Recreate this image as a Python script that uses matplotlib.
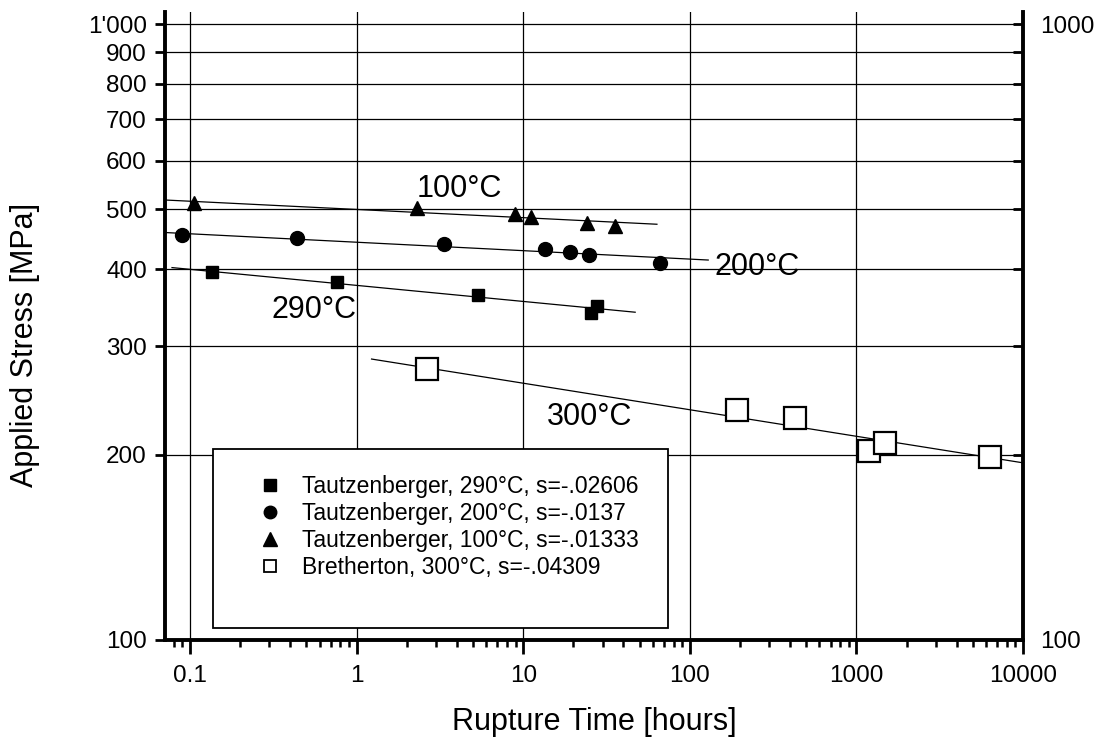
import numpy as np
import matplotlib
matplotlib.use("Agg")
import matplotlib.pyplot as plt
from matplotlib.lines import Line2D
from matplotlib.patches import Rectangle
from matplotlib.ticker import FixedLocator, FixedFormatter, LogLocator, NullFormatter, NullLocator

plt.rcParams['font.family'] = ['Liberation Sans', 'DejaVu Sans']

# Rupture time [h] and applied stress [MPa] per data set
t_290 = [0.136, 0.760, 5.39, 27.7, 25.5]
s_290 = [396.0, 381.0, 363.0, 348.5, 339.0]

t_200 = [0.0892, 0.4375, 3.354, 13.6, 19.2, 24.9, 66.5]
s_200 = [455.0, 450.0, 439.5, 431.0, 426.5, 421.7, 409.0]

t_100 = [0.106, 2.30, 8.87, 11.2, 24.3, 35.7]
s_100 = [511.6, 502.0, 491.0, 485.6, 475.0, 470.6]

t_300 = [2.64, 192.0, 430.0, 1186.0, 1493.0, 6320.0]
s_300 = [275.0, 236.5, 229.0, 202.7, 208.6, 198.5]

# Power-law exponents of the fits (stress = A * t^s)
slope_290 = -0.02606
slope_200 = -0.0137
slope_100 = -0.01333
slope_300 = -0.04309

# Time span covered by each fit line
span_290 = [0.078, 47.0]
span_200 = [0.0708, 129.0]
span_100 = [0.0708, 63.5]
span_300 = [1.23, 10000.0]

legend_labels = [
    "Tautzenberger, 290°C, s=-.02606",
    "Tautzenberger, 200°C, s=-.0137",
    "Tautzenberger, 100°C, s=-.01333",
    "Bretherton, 300°C, s=-.04309",
]

y_ticks = [100, 200, 300, 400, 500, 600, 700, 800, 900, 1000]
y_tick_labels = ["100", "200", "300", "400", "500", "600", "700", "800", "900", "1'000"]
y_right_labels = ["100", "", "", "", "", "", "", "", "", "1000"]
x_ticks = [0.1, 1, 10, 100, 1000, 10000]
x_tick_labels = ["0.1", "1", "10", "100", "1000", "10000"]

W, H = 1103, 738
fig = plt.figure(figsize=(W / 100, H / 100), dpi=100)


def fpx(x, y):
    """Pixel position (from top-left) to figure fraction."""
    return x / W, 1 - y / H


left, right, top, bottom = 165, 1023, 12, 640
ax = fig.add_axes([left / W, 1 - bottom / H, (right - left) / W, (bottom - top) / H])
ax.set_xscale('log')
ax.set_yscale('log')
ax.set_xlim(0.0708, 10000)
ax.set_ylim(100, 1046)

# grid
ax.yaxis.set_major_locator(FixedLocator(y_ticks))
ax.yaxis.set_major_formatter(FixedFormatter(y_tick_labels))
ax.yaxis.set_minor_locator(NullLocator())
ax.xaxis.set_major_locator(FixedLocator(x_ticks))
ax.xaxis.set_major_formatter(FixedFormatter(x_tick_labels))
ax.xaxis.set_minor_locator(LogLocator(base=10, subs=np.arange(2, 10)))
ax.xaxis.set_minor_formatter(NullFormatter())
ax.grid(True, which='major', color='black', linewidth=0.9)
ax.set_axisbelow(True)

for side in ('left', 'bottom', 'right'):
    ax.spines[side].set_linewidth(2.8)
ax.spines['top'].set_visible(False)

ax.tick_params(axis='y', which='major', direction='out', length=7, width=2.0,
               labelsize=17.5, pad=6, right=False)
ax.tick_params(axis='x', which='major', direction='out', length=10, width=2.0,
               labelsize=17.5, pad=8, top=False)
ax.tick_params(axis='x', which='minor', direction='out', length=5, width=1.8, top=False)

# right-hand scale
ax2 = ax.twinx()
ax2.set_yscale('log')
ax2.set_ylim(ax.get_ylim())
ax2.yaxis.set_major_locator(FixedLocator(y_ticks))
ax2.yaxis.set_major_formatter(FixedFormatter(y_right_labels))
ax2.yaxis.set_minor_locator(NullLocator())
ax2.tick_params(axis='y', which='major', direction='in', length=7, width=2.0,
                labelsize=17.5, pad=12)
for sp in ax2.spines.values():
    sp.set_visible(False)


def fit_line(t, s, k, span):
    lt = np.log10(t)
    ls = np.log10(s)
    log_a = np.mean(ls - k * lt)
    tt = np.logspace(np.log10(span[0]), np.log10(span[1]), 50)
    return tt, 10 ** log_a * tt ** k


line_kw = dict(color='black', linewidth=0.9, zorder=3)
for t, s, k, span in [(t_290, s_290, slope_290, span_290),
                      (t_200, s_200, slope_200, span_200),
                      (t_100, s_100, slope_100, span_100),
                      (t_300, s_300, slope_300, span_300)]:
    xx, yy = fit_line(t, s, k, span)
    ax.plot(xx, yy, **line_kw)

ax.plot(t_290, s_290, ls='none', marker='s', ms=8.6, color='black', zorder=4)
ax.plot(t_200, s_200, ls='none', marker='o', ms=10, color='black', zorder=4)
ax.plot(t_100, s_100, ls='none', marker='^', ms=10.5, color='black', zorder=4)
ax.plot(t_300, s_300, ls='none', marker='s', ms=16, mfc='white', mec='black',
        mew=1.6, zorder=4)

# curve labels
lab_kw = dict(fontsize=22, ha='center', va='center', transform=fig.transFigure, zorder=5)
fig.text(*fpx(459, 189), "100°C", **lab_kw)
fig.text(*fpx(757, 267), "200°C", **lab_kw)
fig.text(*fpx(314, 310), "290°C", **lab_kw)
fig.text(*fpx(590, 417), "300°C", **lab_kw)

# legend box
bx0, by0, bx1, by1 = 213, 449, 668, 628
ax.add_patch(Rectangle(fpx(bx0, by1), (bx1 - bx0) / W, (by1 - by0) / H,
                       transform=fig.transFigure, facecolor='white',
                       edgecolor='black', linewidth=1.3, zorder=6))

handles = [
    Line2D([], [], ls='none', marker='s', ms=8, color='black'),
    Line2D([], [], ls='none', marker='o', ms=9, color='black'),
    Line2D([], [], ls='none', marker='^', ms=9.5, color='black'),
    Line2D([], [], ls='none', marker='s', ms=8, mfc='white', mec='black', mew=1.3),
]
leg = ax.legend(handles, legend_labels, loc='upper left',
                bbox_to_anchor=fpx(261, 475), bbox_transform=fig.transFigure,
                frameon=False, fontsize=16.5, handlelength=0.78, handletextpad=1.02,
                labelspacing=0.17, borderpad=0, borderaxespad=0)
leg.set_zorder(7)

fig.text(*fpx(594, 722), "Rupture Time [hours]", fontsize=22, ha='center', va='center')
fig.text(*fpx(25, 345), "Applied Stress [MPa]", fontsize=22, ha='center', va='center',
         rotation=90)

fig.savefig("out.png", dpi=100, facecolor='white')
